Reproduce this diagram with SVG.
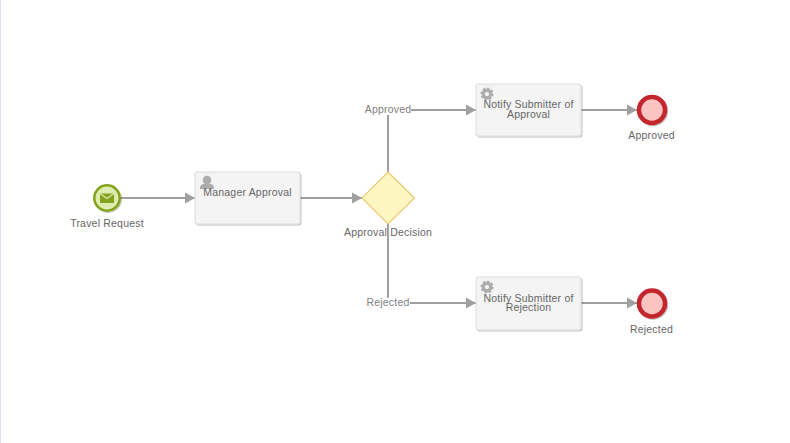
<svg xmlns="http://www.w3.org/2000/svg" width="790" height="443" viewBox="0 0 790 443">
<style>
text{font-family:"Liberation Sans",Arial,sans-serif;font-size:10.5px;fill:#666;text-anchor:middle;letter-spacing:.2px}
.lbl{fill:#808080}
.task{fill:#f4f4f4;stroke:#dcdcdc;stroke-width:1;filter:url(#sh)}
.flow{fill:none;stroke:#a0a0a0;stroke-width:2}
.end{fill:#fcc4c1;stroke:#c4252f;stroke-width:4.500;filter:url(#sh)}
.ico{fill:#adadad}
</style>
<defs>
<filter id="sh" x="-20%" y="-20%" width="140%" height="140%"><feDropShadow dx="1" dy="1" stdDeviation=".7" flood-color="#000" flood-opacity="0.25"/></filter>
<marker id="arr" markerUnits="userSpaceOnUse" markerWidth="11" markerHeight="12" refX="10" refY="6" orient="auto"><path d="M0,0.500L10,6L0,11.500Z" fill="#a0a0a0"/></marker>
<g id="gear"><circle r="3.800" fill="none" stroke="#adadad" stroke-width="3.400"/><circle r="5.700" fill="none" stroke="#adadad" stroke-width="1.800" stroke-dasharray="2.2 2.2"/></g>
</defs>
<rect x="0" y="0" width="790" height="443" fill="#fff"/>
<rect x="0" y="0" width="1" height="443" fill="#dfe3f3"/>
<g id="connectors">
<path class="flow" marker-end="url(#arr)" d="M121,198H195"/>
<path class="flow" marker-end="url(#arr)" d="M300,198H362"/>
<path class="flow" d="M388,172V115"/>
<path class="flow" marker-end="url(#arr)" d="M411,110H476"/>
<path class="flow" d="M388,224V298"/>
<path class="flow" marker-end="url(#arr)" d="M410,303H476"/>
<path class="flow" marker-end="url(#arr)" d="M581,110H637"/>
<path class="flow" marker-end="url(#arr)" d="M581,303H637"/>
<text class="lbl" x="388" y="113">Approved</text>
<text class="lbl" x="388" y="306">Rejected</text>
</g>
<g id="start">
<circle cx="107" cy="198" r="12.700" fill="#dfecb0" stroke="#85a21c" stroke-width="2.500" filter="url(#sh)"/>
<rect x="100" y="193.500" width="14" height="9.500" fill="#85a21c"/>
<path d="M100,193.500L107,198.500L114,193.500" fill="none" stroke="#dfecb0" stroke-width="1.200"/>
<text x="107" y="227">Travel Request</text>
</g>
<g id="manager-approval">
<rect class="task" x="195" y="172" width="105" height="52" rx="2"/>
<circle class="ico" cx="207" cy="180" r="4.300"/>
<path class="ico" d="M200,189V187Q200,185 203,184L207,183L211,184Q214,185 214,187V189Z"/>
<text x="247.500" y="196">Manager Approval</text>
</g>
<g id="decision">
<path d="M388,172L414.500,198L388,224L362,198Z" fill="#fdf6c3" stroke="#ecc96e" stroke-width="1.200"/>
<text x="388" y="236">Approval Decision</text>
</g>
<g id="notify-approval">
<rect class="task" x="476" y="84" width="105" height="52" rx="2"/>
<use href="#gear" x="487" y="94"/>
<text x="528.500" y="108">Notify Submitter of</text>
<text x="528.500" y="118">Approval</text>
</g>
<g id="notify-rejection">
<rect class="task" x="476" y="277" width="105" height="53" rx="2"/>
<use href="#gear" x="487" y="287"/>
<text x="528.500" y="302">Notify Submitter of</text>
<text x="528.500" y="311">Rejection</text>
</g>
<g id="end-approved">
<circle class="end" cx="652" cy="110" r="13"/>
<text x="651.500" y="139">Approved</text>
</g>
<g id="end-rejected">
<circle class="end" cx="652" cy="303.500" r="13"/>
<text x="651.500" y="333">Rejected</text>
</g>
</svg>
